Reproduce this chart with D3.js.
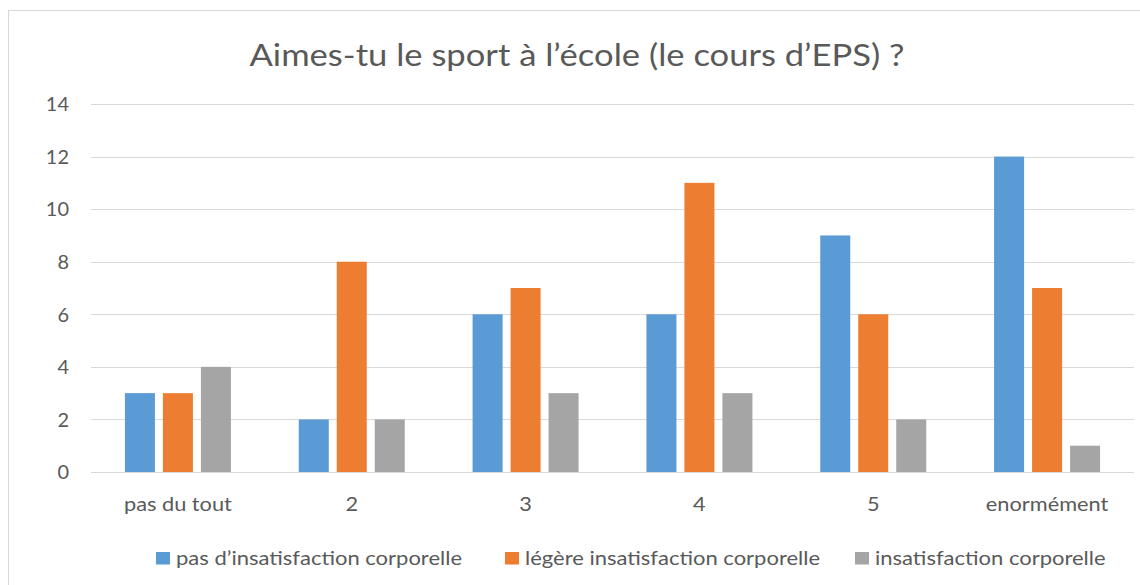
<!DOCTYPE html>
<html><head><meta charset="utf-8">
<script src="https://cdn.jsdelivr.net/npm/d3@7"></script>
<style>body{margin:0;background:#fff}svg{display:block}text{font-family:Lato,"Open Sans",sans-serif;fill:#595959}</style>
</head><body>
<svg id="c" width="1140" height="585"></svg>
<script>
const categories = ["pas du tout","2","3","4","5","enormément"];
const seriesNames = ["pas d’insatisfaction corporelle","légère insatisfaction corporelle","insatisfaction corporelle"];
const pasInsat = [3,2,6,6,9,12];
const legereInsat = [3,8,7,11,6,7];
const insat = [4,2,3,3,2,1];
const yTicks = [0,2,4,6,8,10,12,14];
const colors = ["#5B9BD5","#ED7D31","#A5A5A5"];
const title = "Aimes-tu le sport à l’école (le cours d’EPS) ?";

const SX = 1.17; // horizontal stretch of the reference text
const series = [pasInsat, legereInsat, insat];
const svg = d3.select("#c");
svg.append("rect").attr("x",8.5).attr("y",10.5).attr("width",1140).attr("height",590)
  .attr("fill","#fff").attr("stroke","#d9d9d9");

const x0 = d3.scaleBand().domain(categories).range([91,1134]).paddingInner(0).paddingOuter(0);
const x1 = d3.scaleBand().domain([0,1,2]).range([x0.bandwidth()/2-53, x0.bandwidth()/2+53]).paddingInner(0.21).paddingOuter(0);
const y = d3.scaleLinear().domain([0,14]).range([472,104]);

// gridlines
svg.append("g").selectAll("line").data(yTicks).join("line")
  .attr("x1",91).attr("x2",1134).attr("y1",d=>Math.round(y(d))+0.5).attr("y2",d=>Math.round(y(d))+0.5)
  .attr("stroke","#d9d9d9").attr("stroke-width",1.2);

// y labels
const yAxis = d3.axisLeft(y).tickValues(yTicks).tickSize(0).tickPadding(0);
const gy = svg.append("g").attr("transform","translate(69,0)").call(yAxis);
gy.select(".domain").remove();
gy.selectAll("text").attr("font-size",19).attr("fill","#595959").attr("text-anchor","end")
  .attr("font-family","Lato").attr("dy","0.36em").attr("transform","scale(1.05,1)");

// x labels
const xAxis = d3.axisBottom(x0).tickSize(0).tickPadding(0);
const gx = svg.append("g").attr("transform","translate(0,511)").call(xAxis);
gx.select(".domain").remove();
gx.selectAll("text").attr("font-size",18.6).attr("fill","#595959").attr("font-family","Lato")
  .attr("dy",0).attr("y",0).attr("transform",`scale(${SX},1)`);

// bars
const groups = svg.append("g").selectAll("g").data(categories).join("g")
  .attr("transform",d=>`translate(${x0(d)},0)`);
groups.selectAll("rect").data((d,i)=>series.map((s,k)=>({k,v:s[i]}))).join("rect")
  .attr("x",d=>x1(d.k)).attr("width",x1.bandwidth())
  .attr("y",d=>y(d.v)).attr("height",d=>y(0)-y(d.v))
  .attr("fill",d=>colors[d.k]);

// title
svg.append("text").attr("transform",`translate(577,66) scale(${SX*0.985},1)`).attr("text-anchor","middle")
  .attr("font-size",30).attr("fill","#595959").text(title);

// legend
const legX = [156,505,855];
const leg = svg.append("g").selectAll("g").data(seriesNames).join("g")
  .attr("transform",(d,i)=>`translate(${legX[i]},552)`);
leg.append("rect").attr("width",14).attr("height",12.5).attr("fill",(d,i)=>colors[i]);
leg.append("text").attr("transform",`translate(20,12.5) scale(${SX},1)`).attr("font-size",18.8).text(d=>d);
</script>
</body></html>
